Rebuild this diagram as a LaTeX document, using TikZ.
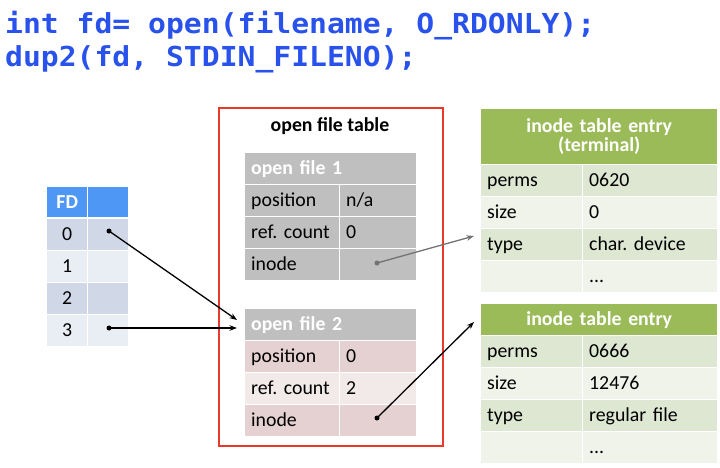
\documentclass[tikz,border=0pt]{standalone}
\usepackage{fontspec}
\setmainfont{Carlito}
\newfontfamily\codefont[FakeStretch=1.08]{DejaVu Sans Mono}
\usetikzlibrary{arrows.meta}
\frenchspacing
\definecolor{codeblue}{RGB}{40,82,235}
\definecolor{fdblue}{RGB}{79,151,245}
\definecolor{fddark}{RGB}{208,216,231}
\definecolor{fdlight}{RGB}{233,237,244}
\definecolor{ofgray}{RGB}{191,191,191}
\definecolor{ofpink}{RGB}{229,209,209}
\definecolor{oflpink}{RGB}{242,233,233}
\definecolor{ingreen}{RGB}{155,187,89}
\definecolor{indark}{RGB}{222,231,210}
\definecolor{inlight}{RGB}{239,243,234}
\definecolor{boxred}{RGB}{232,57,43}
\newcommand\cellfont{\fontsize{19.8}{22}\selectfont}
\newcommand\hdrfont{\fontsize{19.8}{18.5}\selectfont\bfseries}
\tikzset{
  cellbase/.style={draw=white, line width=1.4pt, anchor=north west, inner xsep=6.5pt, inner ysep=0pt},
  cell/.style={cellbase, font=\cellfont, text height=15pt, text depth=2.5pt, align=left},
  cellc/.style={cell, align=center},
  hdr/.style={cell, text=white, font=\cellfont\bfseries},
  hdrc/.style={cellbase, text=white, font=\hdrfont, align=center},
  dotmark/.style={fill=#1, circle, inner sep=0pt, minimum size=5pt},
  link/.style={line width=1.3pt, -{Stealth[length=7.5pt,width=5.5pt]}},
}
\begin{document}
\begin{tikzpicture}[x=1pt,y=-1pt]
\useasboundingbox (0,0) rectangle (720,468);

% code
\node[anchor=base west, inner sep=0pt, text=codeblue, font=\codefont\bfseries\fontsize{27.5}{30}\selectfont] (code1) at (5,34) {int fd= open(filename, O\_RDONLY);};
\node[anchor=base west, inner sep=0pt, text=codeblue, font=\codefont\bfseries\fontsize{27.5}{30}\selectfont] (code2) at (5,67) {dup2(fd, STDIN\_FILENO);};

% FD table
\node[hdr, align=center, fill=fdblue, text width=28pt, minimum height=31pt] (fdh1) at (46,186) {FD};
\node[hdr, fill=fdblue, text width=28pt, minimum height=31pt] (fdh2) at (87,186) {};
\node[cellc, fill=fddark, text width=28pt, minimum height=32pt] (fd0a) at (46,218) {0};
\node[cellc, fill=fddark, text width=28pt, minimum height=32pt] (fd0b) at (87,218) {};
\node[cellc, fill=fdlight, text width=28pt, minimum height=32pt] (fd1a) at (46,250) {1};
\node[cellc, fill=fdlight, text width=28pt, minimum height=32pt] (fd1b) at (87,250) {};
\node[cellc, fill=fddark, text width=28pt, minimum height=32pt] (fd2a) at (46,282) {2};
\node[cellc, fill=fddark, text width=28pt, minimum height=32pt] (fd2b) at (87,282) {};
\node[cellc, fill=fdlight, text width=28pt, minimum height=32pt] (fd3a) at (46,314) {3};
\node[cellc, fill=fdlight, text width=28pt, minimum height=32pt] (fd3b) at (87,314) {};

% open file table box
\node[draw=boxred, line width=2pt, anchor=north west, minimum width=224pt, minimum height=338pt, inner sep=0pt] (oft) at (218,107) {};
\node[font=\cellfont\bfseries, inner sep=0pt] (oftitle) at (330,126) {open file table};

% open file 1
\node[hdr, fill=ofgray, text width=159pt, minimum height=32pt] (of1h) at (244,152) {open file 1};
\node[cell, fill=ofgray, text width=82pt, minimum height=32pt] (of1pa) at (244,184) {position};
\node[cell, fill=ofgray, text width=64pt, minimum height=32pt] (of1pb) at (339,184) {n/a};
\node[cell, fill=ofgray, text width=82pt, minimum height=32pt] (of1ra) at (244,216) {ref. count};
\node[cell, fill=ofgray, text width=64pt, minimum height=32pt] (of1rb) at (339,216) {0};
\node[cell, fill=ofgray, text width=82pt, minimum height=32pt] (of1ia) at (244,248) {inode};
\node[cell, fill=ofgray, text width=64pt, minimum height=32pt] (of1ib) at (339,248) {};

% open file 2
\node[hdr, fill=ofgray, text width=159pt, minimum height=32pt] (of2h) at (244,308) {open file 2};
\node[cell, fill=ofpink, text width=82pt, minimum height=32pt] (of2pa) at (244,340) {position};
\node[cell, fill=ofpink, text width=64pt, minimum height=32pt] (of2pb) at (339,340) {0};
\node[cell, fill=oflpink, text width=82pt, minimum height=32pt] (of2ra) at (244,372) {ref. count};
\node[cell, fill=oflpink, text width=64pt, minimum height=32pt] (of2rb) at (339,372) {2};
\node[cell, fill=ofpink, text width=82pt, minimum height=32pt] (of2ia) at (244,404) {inode};
\node[cell, fill=ofpink, text width=64pt, minimum height=32pt] (of2ib) at (339,404) {};

% inode table 1
\node[hdrc, fill=ingreen, text width=224pt, minimum height=56pt] (in1h) at (480,108) {inode table entry\\(terminal)};
\node[cell, fill=indark, text width=89pt, minimum height=32pt] (in1pa) at (480,164) {perms};
\node[cell, fill=indark, text width=122pt, minimum height=32pt] (in1pb) at (582,164) {0620};
\node[cell, fill=inlight, text width=89pt, minimum height=32pt] (in1sa) at (480,196) {size};
\node[cell, fill=inlight, text width=122pt, minimum height=32pt] (in1sb) at (582,196) {0};
\node[cell, fill=indark, text width=89pt, minimum height=32pt] (in1ta) at (480,228) {type};
\node[cell, fill=indark, text width=122pt, minimum height=32pt] (in1tb) at (582,228) {char. device};
\node[cell, fill=inlight, text width=89pt, minimum height=32pt] (in1xa) at (480,260) {};
\node[cell, fill=inlight, text width=122pt, minimum height=32pt] (in1xb) at (582,260) {...};

% inode table 2
\node[hdrc, fill=ingreen, text width=224pt, minimum height=32pt] (in2h) at (480,303) {inode table entry};
\node[cell, fill=indark, text width=89pt, minimum height=32pt] (in2pa) at (480,335) {perms};
\node[cell, fill=indark, text width=122pt, minimum height=32pt] (in2pb) at (582,335) {0666};
\node[cell, fill=inlight, text width=89pt, minimum height=32pt] (in2sa) at (480,367) {size};
\node[cell, fill=inlight, text width=122pt, minimum height=32pt] (in2sb) at (582,367) {12476};
\node[cell, fill=indark, text width=89pt, minimum height=32pt] (in2ta) at (480,399) {type};
\node[cell, fill=indark, text width=122pt, minimum height=32pt] (in2tb) at (582,399) {regular file};
\node[cell, fill=inlight, text width=89pt, minimum height=32pt] (in2xa) at (480,431) {};
\node[cell, fill=inlight, text width=122pt, minimum height=32pt] (in2xb) at (582,431) {...};

% pointer dots
\node[dotmark=black] (p0) at (109,231) {};
\node[dotmark=black] (p3) at (109,328) {};
\node[dotmark=gray!90!black] (q1) at (377,263) {};
\node[dotmark=black] (q2) at (377,418) {};

% arrow targets
\coordinate (t0) at (237,320);
\coordinate (t3) at (237,328);
\coordinate (u1) at (474,236);
\coordinate (u2) at (474,322);

% connectors
\draw[link] (p0.center) -- (t0);
\draw[link] (p3.center) -- (t3);
\draw[link, draw=gray!90!black, fill=gray!90!black] (q1.center) -- (u1);
\draw[link] (q2.center) -- (u2);
\end{tikzpicture}
\end{document}
